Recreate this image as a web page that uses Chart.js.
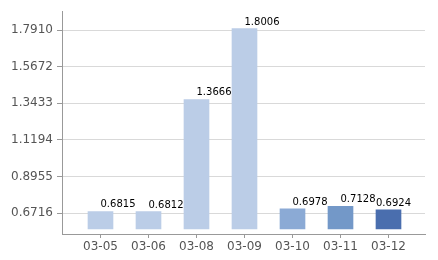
<!DOCTYPE html>
<html>
<head>
<meta charset="utf-8">
<script src="https://cdn.jsdelivr.net/npm/chart.js@4/dist/chart.umd.min.js"></script>
<style>
html,body{margin:0;padding:0;background:#fff;}
#wrap{width:438px;height:260px;position:relative;}
</style>
</head>
<body>
<div id="wrap"><canvas id="c" width="438" height="260"></canvas></div>
<script>
const categories = ['03-05','03-06','03-08','03-09','03-10','03-11','03-12'];
const values = [0.6815, 0.6812, 1.3666, 1.8006, 0.6978, 0.7128, 0.6924];
const barColors = ['#BBCDE7','#BBCDE7','#BBCDE7','#BBCDE7','#8BAAD5','#7398C8','#4A6EAE'];
const yTickValues = [0.6716, 0.8955, 1.1194, 1.3433, 1.5672, 1.7910];
const yTickLabels = ['0.6716','0.8955','1.1194','1.3433','1.5672','1.7910'];
const yMin = 0.5438, yMax = 1.9066, barBase = 0.5743;
const xMin = -0.8021, xMax = 6.7604;

const labelPlugin = {
  id: 'valueLabels',
  afterDatasetsDraw(chart) {
    const ctx = chart.ctx;
    const meta = chart.getDatasetMeta(0);
    ctx.save();
    ctx.font = '10px "DejaVu Sans"';
    ctx.fillStyle = '#000';
    ctx.textBaseline = 'alphabetic';
    ctx.textAlign = 'left';
    meta.data.forEach((bar, i) => {
      const txt = values[i].toFixed(4);
      const w = ctx.measureText(txt).width;
      let x = bar.x;
      if (x + w > chart.chartArea.right - 2) x = bar.x - bar.width / 2;
      ctx.fillText(txt, x, bar.y - 4);
    });
    ctx.restore();
  }
};

Chart.defaults.font.family = '"DejaVu Sans"';
new Chart(document.getElementById('c'), {
  type: 'bar',
  data: {
    datasets: [{
      data: categories.map((c, i) => ({x: i, y: values[i]})),
      backgroundColor: barColors,
      base: barBase,
      barThickness: 25,
      borderWidth: 0
    }]
  },
  options: {
    responsive: false,
    animation: false,
    devicePixelRatio: 1,
    layout: {padding: {top: 10, right: 13, left: 0, bottom: 0}},
    plugins: {legend: {display: false}, tooltip: {enabled: false}},
    scales: {
      x: {
        type: 'linear',
        offset: false,
        min: xMin, max: xMax,
        afterBuildTicks(s) { s.ticks = categories.map((c, i) => ({value: i})); },
        afterFit(s) { s.height = 26; },
        grid: {offset: false, drawOnChartArea: false, drawTicks: true, tickLength: 4, tickColor: '#999'},
        border: {color: '#999'},
        ticks: {
          autoSkip: false, maxRotation: 0,
          color: '#555', font: {size: 12}, padding: 2,
          callback: (v) => categories[v]
        }
      },
      y: {
        type: 'linear',
        min: yMin, max: yMax,
        afterBuildTicks(s) { s.ticks = yTickValues.map(v => ({value: v})); },
        afterFit(s) { s.width = 62; },
        grid: {color: '#D9D9D9', drawTicks: true, tickLength: 5, tickColor: '#999'},
        border: {color: '#999'},
        ticks: {
          color: '#555', font: {size: 12}, padding: 4,
          callback: (v, i) => yTickLabels[i]
        }
      }
    }
  },
  plugins: [labelPlugin]
});
</script>
</body>
</html>
